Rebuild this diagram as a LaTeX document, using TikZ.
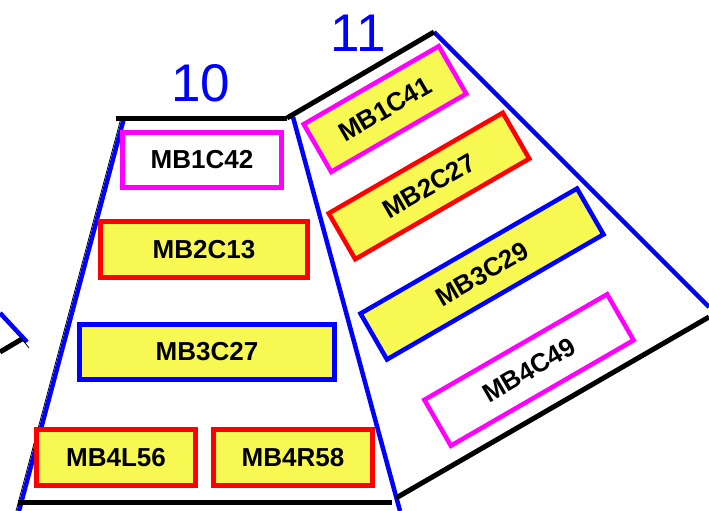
\documentclass[tikz,border=0pt]{standalone}
\usepackage{fontspec}
\setmainfont{Liberation Sans}
\definecolor{fillyel}{RGB}{248,248,82}
\definecolor{pblue}{RGB}{0,0,255}
\definecolor{pmag}{RGB}{255,0,255}
\definecolor{pred}{RGB}{255,0,0}
\begin{document}
\begin{tikzpicture}[x=1pt,y=-1pt,
  mbox/.style={draw, line width=4.5pt, inner sep=0pt, anchor=center,
    font=\fontsize{26}{26}\selectfont\bfseries, text=black},
  magbox/.style={mbox, draw=pmag, fill=white},
  magybox/.style={mbox, draw=pmag, fill=fillyel},
  redbox/.style={mbox, draw=pred, fill=fillyel},
  bluebox/.style={mbox, draw=pblue, fill=fillyel},
  edge/.style={draw=pblue, line width=4.5pt},
  rim/.style={draw=black, line width=5pt},
  thinrim/.style={draw=black, line width=0.8pt},
  seclabel/.style={text=pblue, font=\fontsize{53}{53}\selectfont, inner sep=0pt}
]
\useasboundingbox (0,0) rectangle (709,511);

% sector 10 / 11 corners
\coordinate (a10tl) at (116,118);
\coordinate (a10tr) at (287,118);
\coordinate (e10l1) at (124,118);
\coordinate (e10l2) at (19,511);
\coordinate (t10l1) at (121,118);
\coordinate (t10l2) at (16,511);
\coordinate (emid1) at (293,117);
\coordinate (emid2) at (400,511);
\coordinate (b10l) at (18,502);
\coordinate (b10r) at (392,502);
\coordinate (a11t) at (434,32);
\coordinate (e11r) at (709,307);
\coordinate (b11l) at (396,498);
\coordinate (b11r) at (709,317);

% neighbour fragment
\coordinate (f1) at (0,313);
\coordinate (f2) at (27,342);
\coordinate (f3) at (0,352);
\coordinate (f4) at (22,339);
\coordinate (f5) at (29,348);

\draw[thinrim] (t10l1) -- (t10l2);
\draw[edge] (e10l1) -- (e10l2);
\draw[edge] (emid1) -- (emid2);
\draw[edge] (a11t) -- (e11r);
\draw[rim] (a10tl) -- (a10tr);
\draw[rim] (a10tr) -- (a11t);
\draw[rim] (b10l) -- (b10r);
\draw[rim] (b11l) -- (b11r);

\draw[edge] (f1) -- (f2);
\draw[rim] (f3) -- (f4);
\draw[thinrim] (f4) -- (f5);

% labels
\node[seclabel] (l10) at (201,83) {10};
\node[seclabel] (l11) at (358,33) {11};

% sector 10 boxes
\node[magbox, minimum width=159pt, minimum height=55pt] (mb1c42) at (202,160) {MB1C42};
\node[redbox, minimum width=207pt, minimum height=56pt] (mb2c13) at (204,249.5) {MB2C13};
\node[bluebox, minimum width=255pt, minimum height=55pt] (mb3c27) at (207,352) {MB3C27};
\node[redbox, minimum width=159pt, minimum height=56pt] (mb4l56) at (116,457.5) {MB4L56};
\node[redbox, minimum width=159pt, minimum height=56pt] (mb4r58) at (293,457.5) {MB4R58};

% sector 11 boxes
\node[magybox, rotate=30, minimum width=156pt, minimum height=55pt] (mb1c41) at (385,109) {MB1C41};
\node[redbox, rotate=30, minimum width=201pt, minimum height=53pt] (mb2c27) at (429,186) {MB2C27};
\node[bluebox, rotate=30, minimum width=250pt, minimum height=53pt] (mb3c29) at (482,274) {MB3C29};
\node[magbox, rotate=30, minimum width=211pt, minimum height=53pt] (mb4c49) at (529,370) {MB4C49};
\end{tikzpicture}
\end{document}
